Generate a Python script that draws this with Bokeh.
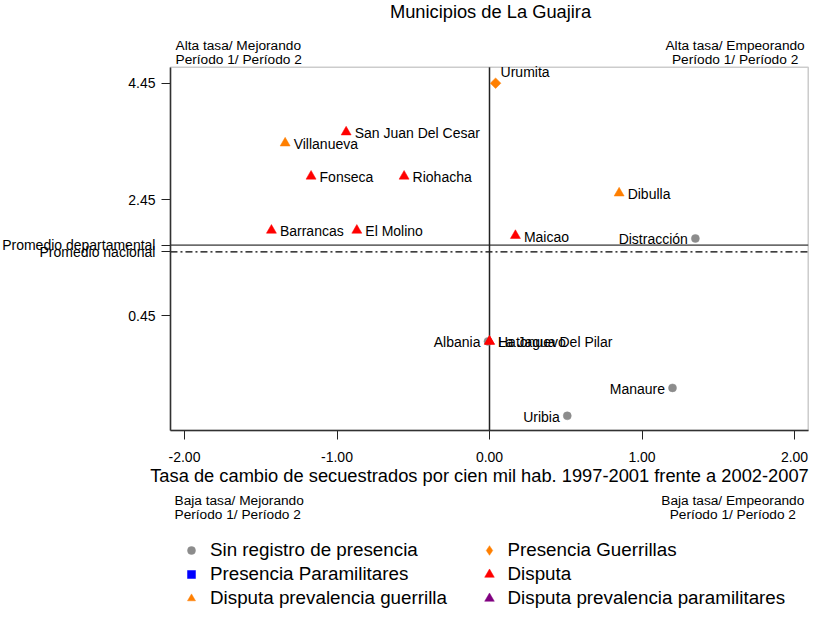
import math
from bokeh.plotting import figure
from bokeh.models import (ColumnDataSource, Label, LabelSet, Legend, LegendItem, BoxAnnotation,
                          FixedTicker, NumeralTickFormatter, Range1d)
from bokeh.core.properties import value
from bokeh.embed import file_html
from bokeh.resources import INLINE

# ---------------- data ----------------
titulo = "Municipios de La Guajira"
eje_x_titulo = "Tasa de cambio de secuestrados por cien mil hab. 1997-2001 frente a 2002-2007"

municipios = ["Urumita", "San Juan Del Cesar", "Villanueva", "Fonseca", "Riohacha",
              "Barrancas", "El Molino", "Dibulla", "Maicao", "Distracción",
              "Albania", "Hatonuevo", "La Jagua Del Pilar", "Manaure", "Uribia"]
cambio = [0.04, -0.94, -1.34, -1.17, -0.56,
          -1.43, -0.87, 0.85, 0.17, 1.35,
          -0.01, 0.0, 0.0, 1.20, 0.51]
tasa = [4.45, 3.61, 3.42, 2.85, 2.85,
        1.92, 1.92, 2.56, 1.83, 1.78,
        0.01, 0.01, 0.01, -0.79, -1.27]
categoria = ["Presencia Guerrillas", "Disputa", "Disputa prevalencia guerrilla", "Disputa", "Disputa",
             "Disputa", "Disputa", "Disputa prevalencia guerrilla", "Disputa", "Sin registro de presencia",
             "Sin registro de presencia", "Disputa", "Disputa", "Sin registro de presencia",
             "Sin registro de presencia"]

categorias = ["Sin registro de presencia", "Presencia Paramilitares", "Disputa prevalencia guerrilla",
              "Presencia Guerrillas", "Disputa", "Disputa prevalencia paramilitares"]

promedio_departamental = 1.666
promedio_nacional = 1.55
cambio_referencia = 0.0
x_ticks = [-2.0, -1.0, 0.0, 1.0, 2.0]
y_ticks = [0.45, 2.45, 4.45]
cuadrante_sup_izq = "Alta tasa/ Mejorando"
cuadrante_sup_der = "Alta tasa/ Empeorando"
cuadrante_inf_izq = "Baja tasa/ Mejorando"
cuadrante_inf_der = "Baja tasa/ Empeorando"
periodos = "Período 1/ Período 2"
etiqueta_dep = "Promedio departamental"
etiqueta_nac = "Promedio nacional"

# ---------------- layout / styles ----------------
W, H = 831, 619
X_MIN, X_MAX = -2.092, 2.09          # inner plot box (data units)
Y_MIN, Y_MAX = -1.522, 4.725
PX_X, X0_PX = 152.5, 489.0           # px per x unit, pixel of x=0
PX_Y, Y445_PX = 58.15, 82.7          # px per y unit, pixel of y=4.45
x_lo, x_hi = (0 - X0_PX) / PX_X, (W - X0_PX) / PX_X
y_hi, y_lo = 4.45 + Y445_PX / PX_Y, 4.45 - (H - Y445_PX) / PX_Y

FONT = "Liberation Sans"
GRIS, NARANJA, ROJO, AZUL, MORADO = "#8c8c8c", "#ff7f00", "#ff0000", "#0000ff", "#800080"
estilos = {
    "Sin registro de presencia": dict(marker="circle", color=GRIS, size=8, angle=0.0, leyenda="circle"),
    "Presencia Paramilitares": dict(marker="square", color=AZUL, size=8, angle=0.0, leyenda="square"),
    "Disputa prevalencia guerrilla": dict(marker="triangle", color=NARANJA, size=10, angle=0.0,
                                          leyenda="triangle"),
    "Presencia Guerrillas": dict(marker="square", color=NARANJA, size=7.5, angle=math.pi / 4,
                                 leyenda="diamond"),
    "Disputa": dict(marker="triangle", color=ROJO, size=10, angle=0.0, leyenda="triangle"),
    "Disputa prevalencia paramilitares": dict(marker="triangle", color=MORADO, size=10, angle=0.0,
                                              leyenda="triangle"),
}
lado = {"Urumita": "arriba", "Distracción": "izq", "Albania": "izq", "Manaure": "izq", "Uribia": "izq"}

p = figure(width=W, height=H, min_border=0,
           x_range=Range1d(x_lo, x_hi), y_range=Range1d(y_lo, y_hi),
           output_backend="svg", toolbar_location=None, tools="")
p.title.visible = False
p.xgrid.visible = False
p.ygrid.visible = False
p.outline_line_color = None
p.background_fill_color = "white"
p.border_fill_color = "white"

# inner box
p.add_layout(BoxAnnotation(left=X_MIN, right=X_MAX, bottom=Y_MIN, top=Y_MAX,
                           fill_alpha=0, line_color="#555555", line_width=1.5))

# axes placed on the inner box
p.xaxis.fixed_location = Y_MIN
p.xaxis.bounds = (X_MIN, X_MAX)
p.yaxis.fixed_location = X_MIN
p.yaxis.bounds = (Y_MIN, Y_MAX)
p.xaxis.ticker = FixedTicker(ticks=x_ticks)
p.xaxis.formatter = NumeralTickFormatter(format="0.00")
p.yaxis.ticker = FixedTicker(ticks=y_ticks + [promedio_nacional, promedio_departamental])
p.yaxis.formatter = NumeralTickFormatter(format="0.00")
p.yaxis.major_label_overrides = {promedio_nacional: etiqueta_nac, promedio_departamental: etiqueta_dep}
for ax in (p.xaxis[0], p.yaxis[0]):
    ax.axis_line_color = "#222222"
    ax.axis_line_width = 1.5
    ax.major_tick_line_color = "#222222"
    ax.major_tick_out = 9
    ax.major_tick_in = 0
    ax.minor_tick_line_color = None
    ax.major_label_text_font = FONT
    ax.major_label_text_font_size = "14px"
    ax.major_label_text_color = "black"
p.xaxis.major_label_standoff = 13
p.yaxis.major_label_standoff = 6

# reference lines
p.line(x=[X_MIN, X_MAX], y=[promedio_departamental, promedio_departamental], line_color="black",
       line_width=1)
p.line(x=[X_MIN, X_MAX], y=[promedio_nacional, promedio_nacional], line_color="black",
       line_width=1.2, line_dash="7 3 2 3")
p.line(x=[cambio_referencia, cambio_referencia], y=[Y_MIN, Y_MAX], line_color="#222222",
       line_width=1.5)

# points by category (+ legend glyph renderers)
nan = float("nan")
leyenda_r = {}
for cat in categorias:
    idx = [i for i, c in enumerate(categoria) if c == cat]
    st = estilos[cat]
    if idx:
        src = ColumnDataSource(dict(x=[cambio[i] for i in idx], y=[tasa[i] for i in idx]))
        p.scatter("x", "y", source=src, marker=st["marker"], size=st["size"], angle=st["angle"],
                  fill_color=st["color"], line_color=st["color"], line_width=0.5)
    # legend swatch (no data point drawn)
    leyenda_r[cat] = p.scatter(x=[nan], y=[nan], marker=st["leyenda"], size=st["size"],
                               fill_color=st["color"], line_color=st["color"], line_width=0.5)

# point labels
def grupo(side):
    idx = [i for i, m in enumerate(municipios) if lado.get(m, "der") == side]
    return ColumnDataSource(dict(x=[cambio[i] for i in idx], y=[tasa[i] for i in idx],
                                 nombre=[municipios[i] for i in idx]))

common = dict(text_font=value(FONT), text_font_size=value("14px"), text_color="black",
              text_baseline="middle")
p.add_layout(LabelSet(x="x", y="y", text="nombre", source=grupo("der"), x_offset=8.5, y_offset=-1,
                      text_align="left", **common))
p.add_layout(LabelSet(x="x", y="y", text="nombre", source=grupo("izq"), x_offset=-7.5, y_offset=-1,
                      text_align="right", **common))
p.add_layout(LabelSet(x="x", y="y", text="nombre", source=grupo("arriba"), x_offset=5, y_offset=11,
                      text_align="left", **common))

# title, axis title and quadrant notes (screen units, canvas = page)
def nota(txt, x, y_mid, align, size="13.7px"):
    p.add_layout(Label(x=x, y=H - y_mid, x_units="screen", y_units="screen", text=txt,
                       text_align=align, text_baseline="middle", text_font=FONT,
                       text_font_size=size, text_color="black"))

nota(titulo, 490, 10.5, "center", "18.3px")
nota(eje_x_titulo, 479, 474.5, "center", "18.3px")
nota(cuadrante_sup_izq, 175, 45, "left")
nota(periodos, 175, 59, "left")
nota(cuadrante_sup_der, 734.6, 45, "center")
nota(periodos, 734.6, 59, "center")
nota(cuadrante_inf_izq, 174, 500, "left")
nota(periodos, 174, 514, "left")
nota(cuadrante_inf_der, 732.3, 500, "center")
nota(periodos, 732.3, 514, "center")

# legend: two columns
def leyenda(cats, vx, gw, standoff):
    lg = Legend(items=[LegendItem(label=c, renderers=[leyenda_r[c]]) for c in cats],
                location=(vx, H - 609.5), orientation="vertical", padding=0, margin=0, spacing=0,
                glyph_width=gw, glyph_height=24, label_height=24, label_standoff=standoff,
                label_text_font=FONT, label_text_font_size="18.8px", label_text_color="black",
                background_fill_alpha=0, border_line_alpha=0)
    p.add_layout(lg, "center")

leyenda(categorias[:3], 181, 20, 9)
leyenda(categorias[3:], 476.5, 24, 7)

open("out.html", "w").write(file_html(p, INLINE))
